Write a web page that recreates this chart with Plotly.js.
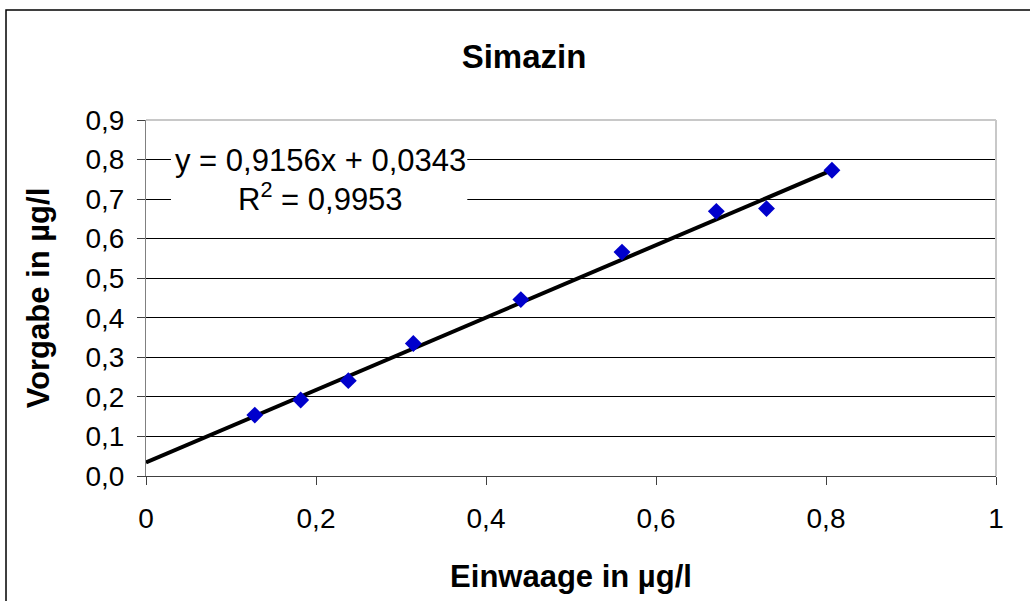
<!DOCTYPE html>
<html>
<head>
<meta charset="utf-8">
<script src="https://cdn.plot.ly/plotly-3.0.1.min.js"></script>
<style>html,body{margin:0;padding:0;background:#fff;}#chart{width:1030px;height:601px;}</style>
</head>
<body>
<div id="chart"></div>
<script>
// Data
const einwaage = [0.128, 0.182, 0.238, 0.3145, 0.441, 0.560, 0.671, 0.730, 0.807];
const vorgabe  = [0.154, 0.192, 0.241, 0.335, 0.446, 0.566, 0.669, 0.676, 0.773];
const slope = 0.9156;
const intercept = 0.0343;
const eqText = "y = 0,9156x + 0,0343";
const r2Text = "R<sup>2</sup> = 0,9953";
const xTicks = [0, 0.2, 0.4, 0.6, 0.8, 1];
const yTicks = [0, 0.1, 0.2, 0.3, 0.4, 0.5, 0.6, 0.7, 0.8, 0.9];

const xMax = Math.max(...einwaage);
const trendX = [0, xMax];
const trendY = trendX.map(x => slope * x + intercept);

const FONT = "Liberation Sans, Arial, sans-serif";

const traces = [
  {
    x: trendX, y: trendY, type: "scatter", mode: "lines",
    line: {color: "#000000", width: 4}, hoverinfo: "skip", showlegend: false
  },
  {
    x: einwaage, y: vorgabe, type: "scatter", mode: "markers",
    marker: {symbol: "diamond", size: 13, color: "#0000CC"}, showlegend: false
  }
];

const layout = {
  width: 1030, height: 601,
  margin: {l: 146, r: 34, t: 120, b: 125, pad: 0},
  paper_bgcolor: "#ffffff", plot_bgcolor: "#ffffff",
  separators: ",.",
  font: {family: FONT, color: "#000000", size: 28},
  showlegend: false,
  title: {
    text: "<b>Simazin</b>", font: {family: FONT, size: 33, color: "#000"},
    x: 524/1030, xref: "container", xanchor: "center",
    y: 1 - 56/601, yref: "container", yanchor: "middle"
  },
  xaxis: {
    range: [0, 1], tickvals: xTicks, tickformat: "",
    showgrid: false, zeroline: false,
    showline: true, linecolor: "#404040", linewidth: 1,
    ticks: "outside", ticklen: 8, tickcolor: "#404040",
    ticklabelstandoff: 9,
    tickfont: {family: FONT, size: 28},
    title: {text: "<b>Einwaage in µg/l</b>", font: {family: FONT, size: 31}, standoff: 32}
  },
  yaxis: {
    range: [0, 0.9], tickvals: yTicks, tickformat: ".1f",
    showgrid: true, gridcolor: "#000000", gridwidth: 1, zeroline: false,
    showline: true, linecolor: "#808080", linewidth: 1,
    ticks: "outside", ticklen: 8, tickcolor: "#404040",
    ticklabelstandoff: 7,
    tickfont: {family: FONT, size: 28},
    title: {text: "<b>Vorgabe in µg/l</b>", font: {family: FONT, size: 31}, standoff: 26}
  },
  shapes: [
    {type: "rect", xref: "x", yref: "y", x0: 0.0294, x1: 0.378, y0: 0.67, y1: 0.835,
     fillcolor: "#ffffff", line: {width: 0}, layer: "between"},
    {type: "line", xref: "paper", yref: "paper", x0: 0, x1: 1, y0: 1, y1: 1,
     line: {color: "#c8c8c8", width: 2}},
    {type: "line", xref: "paper", yref: "paper", x0: 1, x1: 1, y0: 0, y1: 1,
     line: {color: "#c8c8c8", width: 2}},
    {type: "rect", xref: "paper", yref: "paper", x0: -0.1647, x1: 1.06, y0: -0.40, y1: 1.309,
     line: {color: "#000000", width: 1.5}, fillcolor: "rgba(0,0,0,0)"}
  ],
  annotations: [
    {x: 0.205, y: 0.798, xref: "x", yref: "y", text: eqText, showarrow: false,
     font: {family: FONT, size: 31, color: "#000"}, xanchor: "center", yanchor: "middle"},
    {x: 0.205, y: 0.705, xref: "x", yref: "y", text: r2Text, showarrow: false,
     font: {family: FONT, size: 31, color: "#000"}, xanchor: "center", yanchor: "middle"}
  ]
};

Plotly.newPlot("chart", traces, layout, {displayModeBar: false, staticPlot: true});
</script>
</body>
</html>
